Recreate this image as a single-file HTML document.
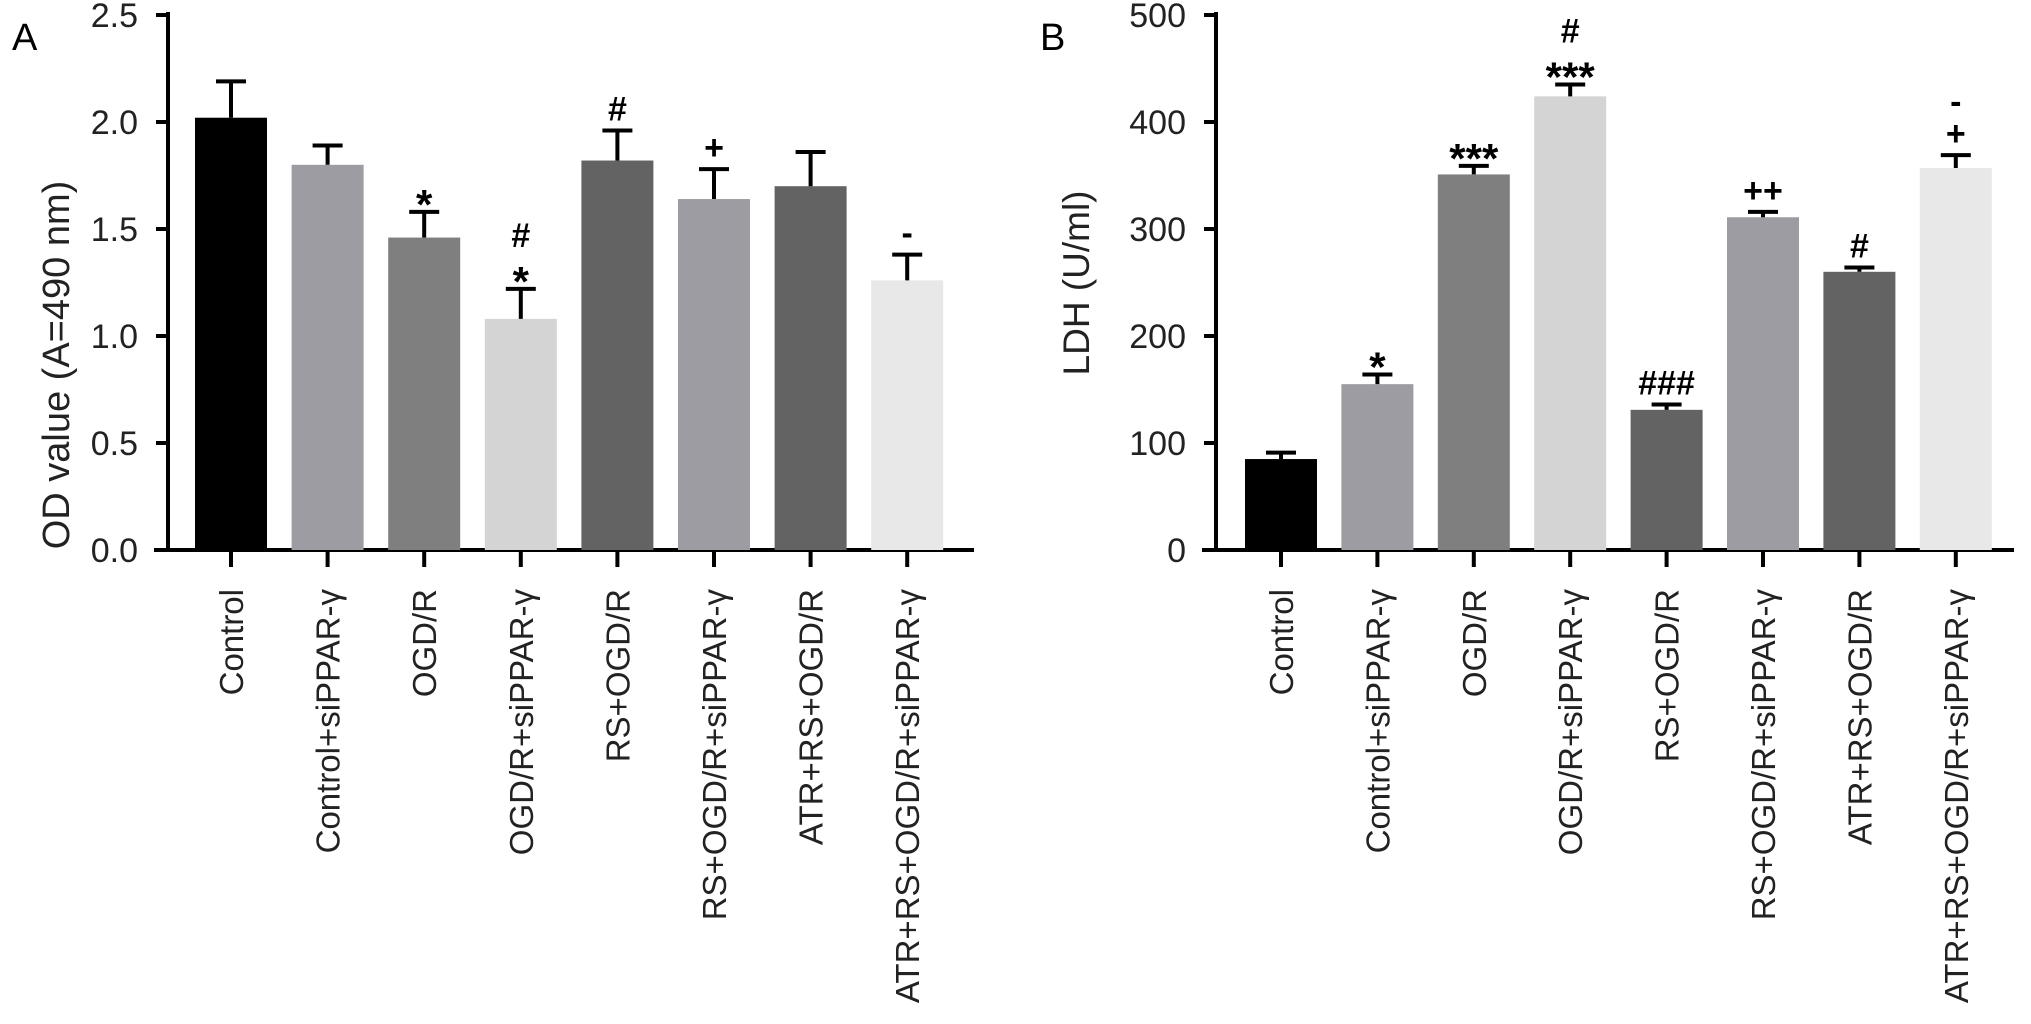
<!DOCTYPE html>
<html><head><meta charset="utf-8">
<style>
html,body{margin:0;padding:0;background:#fff;}
svg{display:block;font-family:"Liberation Sans",Arial,sans-serif;}
</style></head>
<body>
<svg id="chart" width="2031" height="1024" viewBox="0 0 2031 1024" xmlns="http://www.w3.org/2000/svg">
<text x="12" y="50" font-size="38">A</text>
<text x="1040" y="50" font-size="38">B</text>
<text transform="translate(69,365) rotate(-90)" text-anchor="middle" font-size="38" fill="#222">OD value (A=490 nm)</text>
<text transform="translate(1089,283) rotate(-90)" text-anchor="middle" font-size="37" fill="#222">LDH (U/ml)</text>
</svg>
<script>
const categories = ["Control","Control+siPPAR-γ","OGD/R","OGD/R+siPPAR-γ","RS+OGD/R","RS+OGD/R+siPPAR-γ","ATR+RS+OGD/R","ATR+RS+OGD/R+siPPAR-γ"];
const barColors = ["#000000","#9c9ca2","#7f7f7f","#d4d4d4","#636363","#9c9ca2","#636363","#e8e8e8"];
const odValues = [2.02,1.80,1.46,1.08,1.82,1.64,1.70,1.26];
const odErrors = [0.17,0.09,0.12,0.14,0.14,0.14,0.16,0.12];
const odMarks = [[],[],["*"],["#","*"],["#"],["+"],[],["-"]];
const odTicks = [0,0.5,1.0,1.5,2.0,2.5];
const odTickLabels = ["0.0","0.5","1.0","1.5","2.0","2.5"];
const ldhValues = [85,155,351,424,131,311,260,357];
const ldhErrors = [6,9,8,11,5,5,4,12];
const ldhMarks = [[],["*"],["***"],["#","***"],["###"],["++"],["#"],["-","+"]];
const ldhTicks = [0,100,200,300,400,500];
const ldhTickLabels = ["0","100","200","300","400","500"];

const svg = document.getElementById('chart');
const NS = 'http://www.w3.org/2000/svg';
function mk(tag, attrs){const e=document.createElementNS(NS,tag);for(const k in attrs)e.setAttribute(k,attrs[k]);svg.appendChild(e);return e;}

function panel(p, vals, errs, marks, ticks, tickLabels, vmax){
  const y0=550, y1=15;
  const ys = v => y0 - (v/vmax)*(y0-y1);
  const xc = i => p.c0 + i*p.step;
  const bw = 72;
  let e = mk('line',{x1:p.ax,y1:y1-3,x2:p.ax,y2:y0+2,stroke:'#000','stroke-width':4});
  
  
  e = mk('line',{x1:p.bx0,y1:y0,x2:p.bx1,y2:y0,stroke:'#000','stroke-width':4});
  
  
  ticks.forEach((t,i)=>{
    const y=ys(t);
    let l=mk('line',{x1:p.ax-12,y1:y,x2:p.ax,y2:y,stroke:'#000','stroke-width':4});
    
    
    let tx=mk('text',{x:p.ax-30,y:y+12,'text-anchor':'end','font-size':34,fill:'#222'});
    tx.textContent=tickLabels[i];
    
    
  });
  vals.forEach((v,i)=>{
    const x=xc(i), top=ys(v), et=ys(v+errs[i]);
    let r=mk('rect',{x:x-bw/2,y:top,width:bw,height:y0-top,fill:barColors[i]});
    
    
    let el=mk('path',{d:`M${x},${top} V${et} M${x-15},${et} H${x+15}`,stroke:'#000','stroke-width':4,fill:'none'});
    
    
    let tk=mk('line',{x1:x,y1:y0,x2:x,y2:y0+17,stroke:'#000','stroke-width':4});
    
    
    let lb=mk('text',{transform:`translate(${x+12},589) rotate(-90)`,'text-anchor':'end','font-size':33,fill:'#222'});
    lb.textContent=categories[i];
    
    
    const m=marks[i];
    for(let k=m.length-1, yy=et-10; k>=0; k--, yy-=32){
      let s=mk('text',{x:x,y:yy+(m[k].indexOf('*')>=0?17:0),'text-anchor':'middle','font-size':m[k].indexOf('*')>=0?42:34,'font-weight':'bold',fill:'#000'});
      s.textContent=m[k];
      
      
    }
  });
}
panel({id:'panel-a',ax:168,bx0:154,bx1:974,c0:231,step:96.6}, odValues, odErrors, odMarks, odTicks, odTickLabels, 2.5);
panel({id:'panel-b',ax:1216,bx0:1202,bx1:2014,c0:1281,step:96.4}, ldhValues, ldhErrors, ldhMarks, ldhTicks, ldhTickLabels, 500);
</script>
</body></html>
